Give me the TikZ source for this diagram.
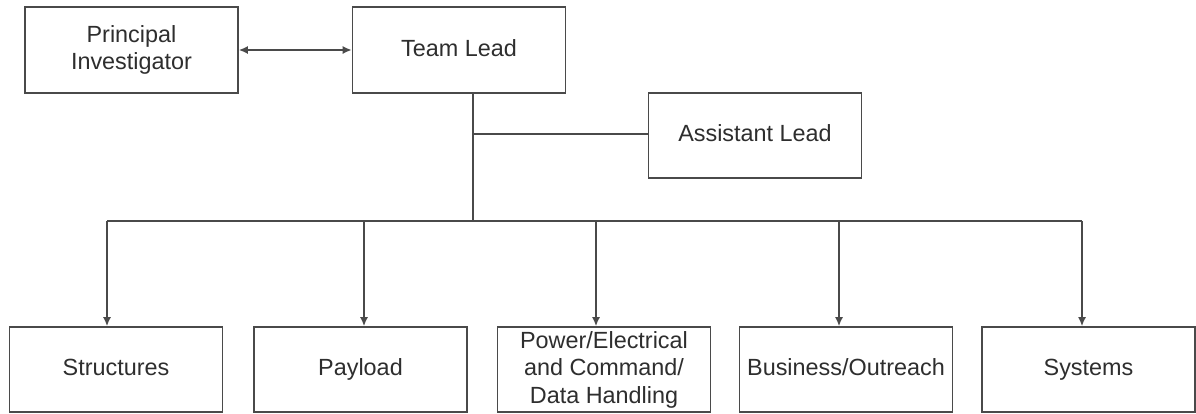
\documentclass[tikz,border=0pt]{standalone}
\usepackage{fontspec}
\setmainfont{Liberation Sans}
\usetikzlibrary{arrows.meta}
\definecolor{ln}{HTML}{4A4A4A}
\definecolor{tx}{HTML}{2E2E2E}
\begin{document}
\begin{tikzpicture}[x=1pt,y=-1pt,
  box/.style={draw=ln, line width=1.6pt, fill=white, align=center, text=tx,
    font=\fontsize{23.4}{27.5}\selectfont, inner sep=0pt},
  one/.style={text height=17pt, text depth=5pt},
  topbox/.style={box, minimum width=213, minimum height=86},
  botbox/.style={box, minimum width=213, minimum height=85},
  conn/.style={draw=ln, line width=1.6pt},
  arr/.style={conn, -{Latex[length=9pt,width=8pt]}},
  darr/.style={conn, {Latex[length=9pt,width=8pt]}-{Latex[length=9pt,width=8pt]}}]
\useasboundingbox[fill=white] (0,0) rectangle (1196,413);
\node[topbox] (pi) at (131.5,50) {Principal\\Investigator};
\node[topbox, one] (tl) at (459,50) {Team Lead};
\node[topbox, one, minimum height=85] (al) at (755,135.5) {Assistant Lead};
\node[botbox, one] (s)  at (116,369.5) {Structures};
\node[botbox, one] (p)  at (360.5,369.5) {Payload};
\node[botbox] (pw) at (604,369.5) {Power/Electrical\\and Command/\\Data Handling};
\node[botbox, one] (b)  at (846,369.5) {Business/Outreach};
\node[botbox, one] (sy) at (1088.5,369.5) {Systems};
\draw[darr] (pi.east) -- (tl.west);
\coordinate (bt) at (473,221);
\coordinate (j) at (473,134);
\draw[conn] (bt |- tl.south) -- (bt);
\draw[conn] (j) -- (j -| al.west);
\coordinate (b1) at (107,221);
\coordinate (b2) at (364,221);
\coordinate (b3) at (596,221);
\coordinate (b4) at (839,221);
\coordinate (b5) at (1082,221);
\draw[conn] (b1) -- (b5);
\draw[arr] (b1) -- (b1 |- s.north);
\draw[arr] (b2) -- (b2 |- p.north);
\draw[arr] (b3) -- (b3 |- pw.north);
\draw[arr] (b4) -- (b4 |- b.north);
\draw[arr] (b5) -- (b5 |- sy.north);
\end{tikzpicture}
\end{document}
